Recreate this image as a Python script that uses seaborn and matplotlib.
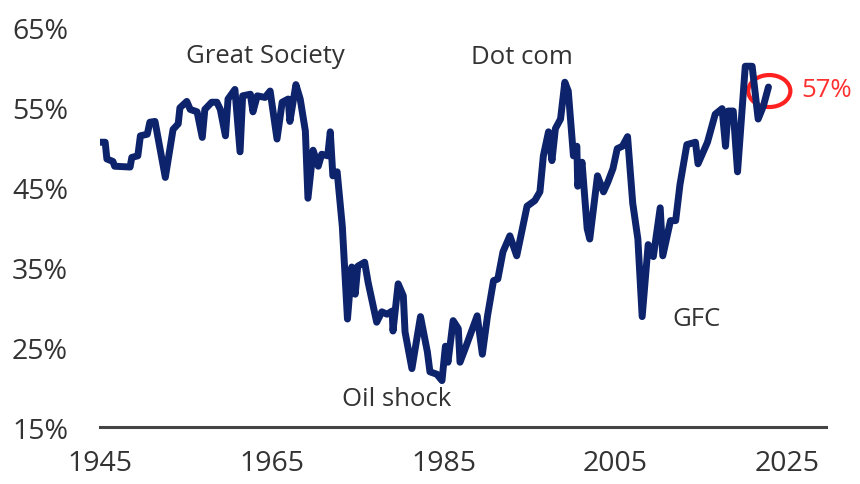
import matplotlib
matplotlib.use("Agg")
import matplotlib.pyplot as plt
from matplotlib.patches import Ellipse
import pandas as pd
import seaborn as sns

years = [
    1945.0, 1945.6, 1945.8, 1946.5, 1946.7, 1948.5, 1948.7, 1949.4, 1949.7, 1950.5,
    1950.8, 1951.4, 1952.6, 1953.5, 1954.1, 1954.3, 1955.1, 1955.5, 1956.3, 1956.9,
    1957.2, 1958.0, 1958.6, 1959.0, 1959.6, 1959.9, 1960.7, 1961.3, 1961.6, 1962.5,
    1962.8, 1963.3, 1964.2, 1964.8, 1965.6, 1966.2, 1966.9, 1967.1, 1967.8, 1968.3,
    1968.9, 1969.2, 1969.8, 1970.4, 1970.8, 1971.5, 1971.8, 1972.1, 1972.6, 1973.2,
    1973.8, 1974.3, 1974.7, 1975.0, 1975.8, 1976.2, 1977.2, 1977.8, 1978.4, 1979.0,
    1979.1, 1979.7, 1980.3, 1980.5, 1981.3, 1982.3, 1983.1, 1983.4, 1984.2, 1984.8,
    1985.2, 1985.5, 1986.1, 1986.7, 1986.9, 1987.5, 1988.9, 1989.5, 1990.1, 1990.8,
    1991.3, 1991.9, 1992.7, 1993.5, 1994.7, 1995.6, 1996.2, 1996.6, 1997.2, 1997.6,
    1998.0, 1998.6, 1999.1, 1999.5, 2000.1, 2000.5, 2000.6, 2001.1, 2001.7, 2002.0,
    2002.9, 2003.6, 2004.1, 2004.7, 2005.2, 2005.8, 2006.4, 2007.0, 2007.6, 2008.1,
    2008.8, 2009.4, 2010.2, 2010.5, 2011.4, 2012.0, 2012.5, 2013.3, 2014.3, 2014.6,
    2015.7, 2016.6, 2017.4, 2017.8, 2018.1, 2018.7, 2019.2, 2020.1, 2020.9, 2021.6,
    2022.2, 2022.8,
]
share = [
    50.6, 50.6, 48.5, 48.2, 47.6, 47.5, 48.7, 48.9, 51.4, 51.6,
    53.1, 53.2, 46.2, 52.2, 52.9, 54.9, 55.7, 54.7, 54.4, 51.2,
    54.7, 55.6, 55.6, 54.7, 51.4, 56.0, 57.2, 49.4, 56.4, 56.6,
    54.4, 56.4, 56.2, 57.0, 51.0, 55.6, 56.0, 53.2, 57.8, 56.0,
    52.0, 43.6, 49.6, 47.6, 49.1, 48.9, 51.9, 46.4, 46.9, 40.1,
    28.5, 35.0, 31.6, 35.1, 35.6, 33.1, 28.1, 29.4, 29.1, 29.5,
    27.0, 32.9, 31.4, 26.9, 22.3, 28.8, 24.4, 21.9, 21.6, 20.8,
    25.1, 23.1, 28.3, 27.3, 23.1, 24.8, 28.9, 24.1, 28.9, 33.3,
    33.5, 36.9, 38.9, 36.4, 42.6, 43.3, 44.4, 48.9, 51.9, 48.3,
    52.3, 53.5, 58.1, 57.0, 48.9, 50.1, 45.1, 48.1, 39.8, 38.5,
    46.4, 44.4, 45.6, 47.3, 49.8, 50.1, 51.3, 43.0, 38.5, 28.8,
    37.8, 36.3, 42.4, 36.4, 40.8, 40.8, 45.3, 50.3, 50.6, 47.9,
    50.6, 54.1, 54.8, 50.1, 54.5, 54.5, 46.9, 60.1, 60.1, 53.5,
    55.1, 57.5,
]

events = ["Great Society", "Dot com", "Oil shock", "GFC"]
event_x = [1964.3, 1994.1, 1979.5, 2014.4]
event_y = [61.4, 61.3, 18.6, 28.6]

y_ticks = [15, 25, 35, 45, 55, 65]
x_ticks = [1945, 1965, 1985, 2005, 2025]

df = pd.DataFrame({"year": years, "share": share})

sns.set_style("white")
plt.rcParams["font.family"] = ["Open Sans", "DejaVu Sans"]

fig = plt.figure(figsize=(8.6, 4.85), dpi=100)
ax = fig.add_axes([0.1163, 0.1175, 0.8442, 0.8247])

sns.lineplot(data=df, x="year", y="share", ax=ax, color="#0d236b",
             linewidth=5, sort=False, solid_joinstyle="round")

ax.set_xlim(1945, 2029.5)
ax.set_ylim(15, 65)
ax.set_xticks(x_ticks)
ax.set_yticks(y_ticks)
ax.set_yticklabels([f"{v}%" for v in y_ticks])
ax.tick_params(axis="both", length=0, labelsize=20.5, labelcolor="#333333")
ax.tick_params(axis="y", pad=23)
ax.tick_params(axis="x", pad=16)
ax.set_xlabel("")
ax.set_ylabel("")

for side in ["top", "right", "left"]:
    ax.spines[side].set_visible(False)
ax.spines["bottom"].set_color("#444444")
ax.spines["bottom"].set_linewidth(2.2)

for label, x, y in zip(events, event_x, event_y):
    ax.text(x, y, label, ha="center", va="center", fontsize=18.5, color="#333333")

ax.add_patch(Ellipse((2022.9, 57.0), 4.9, 4.0, fill=False,
                     edgecolor="#ff2020", linewidth=3, clip_on=False))
ax.text(2026.6, 57.2, "57%", ha="left", va="center", fontsize=18.5,
        color="#ff3030", clip_on=False)

fig.savefig("out.png", dpi=100)
plt.close(fig)
